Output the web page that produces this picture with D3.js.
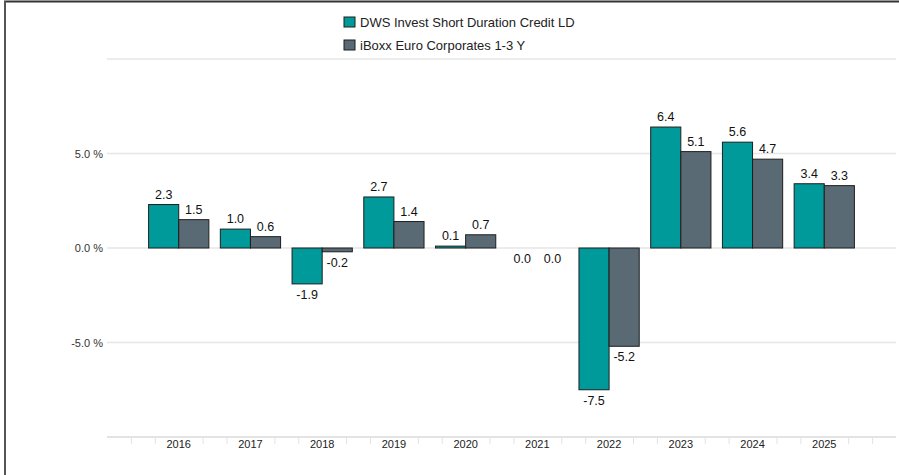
<!DOCTYPE html>
<html>
<head>
<meta charset="utf-8">
<script src="https://cdn.jsdelivr.net/npm/d3@7"></script>
<style>
  body { margin: 0; background: #fff; }
  text { font-family: "Liberation Sans", Arial, sans-serif; }
</style>
</head>
<body>
<div id="viz"></div>
<script>
// chart data
const years = ['2016', '2017', '2018', '2019', '2020', '2021', '2022', '2023', '2024', '2025']
const fundValues = [2.3, 1.0, -1.9, 2.7, 0.1, 0.0, -7.5, 6.4, 5.6, 3.4]
const benchValues = [1.5, 0.6, -0.2, 1.4, 0.7, 0.0, -5.2, 5.1, 4.7, 3.3]
const seriesNames = ['DWS Invest Short Duration Credit LD', 'iBoxx Euro Corporates 1-3 Y']
const yTicks = [-5, 0, 5]
const gridTicks = [-5, 0, 5, 10]

let width = 899,
    height = 475;

const colors = ['#009a9b', '#5a6a75']

let svg = d3.select('#viz')
            .append('svg')
            .attr('width', width)
            .attr('height', height)

// frame lines top + left
svg.append('line')
   .attr('x1', 4).attr('x2', width).attr('y1', 1.5).attr('y2', 1.5)
   .style('stroke', '#333').style('stroke-width', 2)
svg.append('line')
   .attr('x1', 5).attr('x2', 5).attr('y1', 1).attr('y2', height)
   .style('stroke', '#555').style('stroke-width', 2)

// y scale
let yScale = d3.scaleLinear()
               .domain([-10, 10])
               .range([437, 59])

// continuous year position (for minor ticks), then band for groups
let xLin = d3.scaleLinear()
             .domain([2015, 2026])
             .range([107, 896])

let xScale = d3.scaleBand()
               .domain(years)
               .range([xLin(2015.5), xLin(2025.5)])
               .paddingInner(0.16)
               .paddingOuter(0.08)

let xSub = d3.scaleBand()
             .domain([0, 1])
             .range([0, xScale.bandwidth()])

const fmt = v => v.toFixed(1)

// gridlines
svg.append('g')
   .selectAll('line')
   .data(gridTicks)
   .enter()
     .append('line')
     .attr('x1', 107)
     .attr('x2', 896)
     .attr('y1', d => yScale(d))
     .attr('y2', d => yScale(d))
     .style('stroke', '#e6e6e6')
     .style('stroke-width', 1.5)

// y labels
svg.append('g')
   .selectAll('text')
   .data(yTicks)
   .enter()
     .append('text')
     .attr('x', 103)
     .attr('y', d => yScale(d) + 4)
     .attr('text-anchor', 'end')
     .style('font-size', '11px')
     .style('fill', '#333')
     .text(d => fmt(d) + ' %')

// x axis line + minor ticks
svg.append('line')
   .attr('x1', 107).attr('x2', 896)
   .attr('y1', yScale(-10)).attr('y2', yScale(-10))
   .style('stroke', '#e3e3e3').style('stroke-width', 2)

let minor = d3.range(0, 34).map(i => 2015 + i / 3)
              .filter((v, i) => i % 3 !== 0 && xLin(v) <= 897)
svg.append('g')
   .selectAll('line')
   .data(minor)
   .enter()
     .append('line')
     .attr('x1', d => xLin(d) + 0.5)
     .attr('x2', d => xLin(d) + 0.5)
     .attr('y1', yScale(-10))
     .attr('y2', yScale(-10) + 7)
     .style('stroke', '#e3e3e3')
     .style('stroke-width', 1)

svg.append('g')
   .selectAll('text')
   .data(years)
   .enter()
     .append('text')
     .attr('x', d => xScale(d) + xScale.bandwidth() / 2)
     .attr('y', yScale(-10) + 11)
     .attr('text-anchor', 'middle')
     .style('font-size', '11px')
     .style('fill', '#222')
     .text(d => d)

// bars
const series = [fundValues, benchValues]
series.forEach((vals, s) => {
  let g = svg.append('g')
  g.selectAll('rect')
   .data(vals)
   .enter()
     .append('rect')
     .attr('x', (d, i) => xScale(years[i]) + xSub(s))
     .attr('width', xSub.bandwidth())
     .attr('y', d => yScale(Math.max(0, d)))
     .attr('height', d => Math.abs(yScale(d) - yScale(0)))
     .style('fill', colors[s])
     .style('stroke', d => d === 0 ? 'none' : '#1e1e1e')
     .style('stroke-width', 1)

  g.selectAll('text')
   .data(vals)
   .enter()
     .append('text')
     .attr('x', (d, i) => xScale(years[i]) + xSub(s) + xSub.bandwidth() / 2)
     .attr('y', d => d > 0 ? yScale(d) - 6 : yScale(d) + 15)
     .attr('text-anchor', 'middle')
     .style('font-size', '12.5px')
     .style('fill', '#111')
     .text(d => fmt(d))
})

// legend
let legend = svg.append('g')
                .selectAll('g')
                .data(seriesNames)
                .enter()
                  .append('g')
                  .attr('transform', (d, i) => `translate(344, ${17 + i * 23})`)
legend.append('rect')
      .attr('width', 11)
      .attr('height', 10)
      .style('fill', (d, i) => colors[i])
      .style('stroke', '#1e1e1e')
legend.append('text')
      .attr('x', 16)
      .attr('y', 10)
      .style('font-size', '13px')
      .style('fill', '#222')
      .text(d => d)
</script>
</body>
</html>
